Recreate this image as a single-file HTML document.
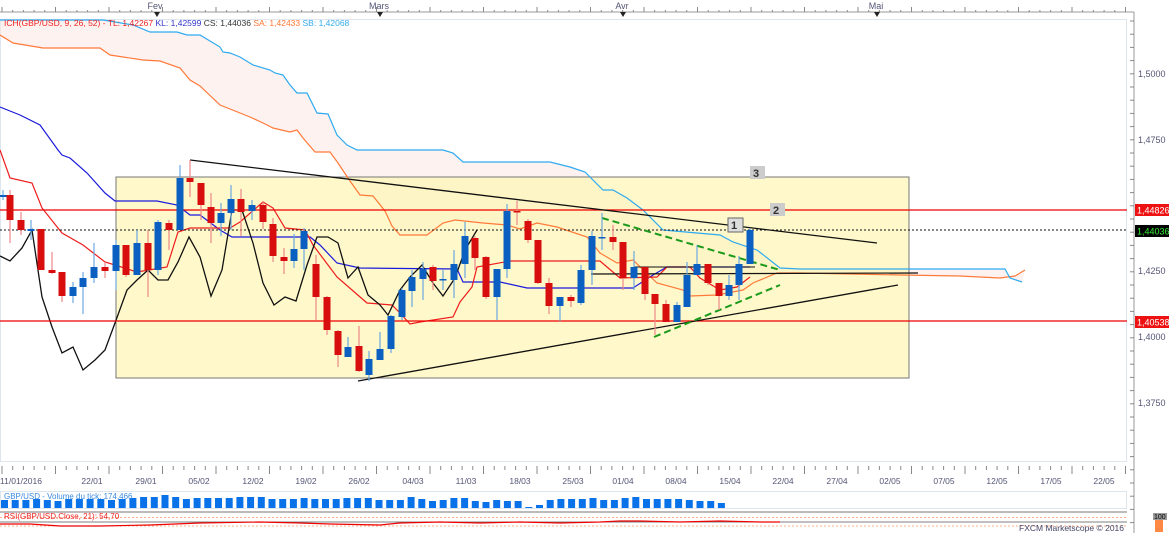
<!DOCTYPE html>
<html><head><meta charset="utf-8"><style>
html,body{margin:0;padding:0;background:#fff;}
svg{display:block;font-family:"Liberation Sans",sans-serif;}
</style></head><body>
<svg id="s" width="1170" height="533" viewBox="0 0 1170 533" xmlns="http://www.w3.org/2000/svg">
<rect x="0" y="0" width="1170" height="533" fill="#fff"/>
<line x1="0" y1="12" x2="1134" y2="12" stroke="#999"/>
<g id="toptick" stroke="#888"></g>
<text x="155" y="9" font-size="9" fill="#557" text-anchor="middle">Fev</text>
<text x="379" y="9" font-size="9" fill="#557" text-anchor="middle">Mars</text>
<text x="622" y="9" font-size="9" fill="#557" text-anchor="middle">Avr</text>
<text x="876" y="9" font-size="9" fill="#557" text-anchor="middle">Mai</text>
<g fill="#222"><path d="M154 12h6l-3 5z"/><path d="M377 12h6l-3 5z"/><path d="M620 12h6l-3 5z"/><path d="M874 12h6l-3 5z"/></g>
<rect x="0.5" y="19.5" width="1126" height="442" fill="none" stroke="#dde6ee"/>
<path id="cloud" fill="#fbe6e0" fill-opacity="0.5"/>
<rect x="116" y="177" width="793" height="201" fill="#fdf6b8" fill-opacity="0.75" stroke="#777" stroke-width="1"/>
<polyline id="sa" fill="none" stroke="#ff7a3a" stroke-width="1.2"/>
<polyline id="sb" fill="none" stroke="#2eaaf0" stroke-width="1.2"/>
<polyline id="kj" fill="none" stroke="#1a1adc" stroke-width="1.2"/>
<polyline id="tk" fill="none" stroke="#ee1c1c" stroke-width="1.2"/>
<polyline id="ck" fill="none" stroke="#111" stroke-width="1.3"/>
<line x1="0" y1="210" x2="1127" y2="210" stroke="#e00" stroke-width="1.2"/>
<line x1="0" y1="321" x2="1127" y2="321" stroke="#e00" stroke-width="1.2"/>
<line x1="0" y1="230" x2="1127" y2="230" stroke="#111" stroke-dasharray="2,2"/>
<line x1="190" y1="160" x2="877" y2="243" stroke="#111" stroke-width="1.3"/>
<line x1="358" y1="381" x2="898" y2="285" stroke="#111" stroke-width="1.3"/>
<line x1="591" y1="274" x2="918" y2="273" stroke="#111" stroke-width="1.2"/>
<line x1="634" y1="267" x2="755" y2="267" stroke="#111" stroke-width="1"/>
<line x1="602" y1="218" x2="780" y2="270" stroke="#1a9a1a" stroke-width="2" stroke-dasharray="7,4"/>
<line x1="654" y1="337" x2="780" y2="285" stroke="#1a9a1a" stroke-width="2" stroke-dasharray="7,4"/>
<g id="candles"></g>
<g font-size="11" font-weight="bold" fill="#333">
<rect x="750" y="166" width="15" height="13" fill="#ccc"/><text x="753" y="177">3</text>
<rect x="770" y="203" width="15" height="13" fill="#ccc"/><text x="773" y="214">2</text>
<rect x="728" y="218" width="15" height="14" fill="#ddd" stroke="#666"/><text x="731" y="229">1</text>
</g>
<text x="4" y="26" font-size="8.5"><tspan fill="#e22">ICH(GBP/USD, 9, 26, 52) -  TL: 1,42267</tspan><tspan fill="#33c">  KL: 1,42599</tspan><tspan fill="#333">  CS: 1,44036</tspan><tspan fill="#f73">  SA: 1,42433</tspan><tspan fill="#3ae">  SB: 1,42068</tspan></text>
<line x1="1134" y1="12" x2="1134" y2="533" stroke="#999"/>
<g id="rticks" stroke="#888"></g>
<g font-size="9" fill="#557">
<text x="1138" y="77">1,5000</text><text x="1138" y="143">1,4750</text>
<text x="1138" y="274">1,4250</text><text x="1138" y="340">1,4000</text>
<text x="1138" y="406">1,3750</text>
</g>
<rect x="1135" y="204" width="34" height="12" fill="#e11"/><text x="1137" y="213.5" font-size="9" fill="#fff">1,44826</text>
<rect x="1135" y="225" width="34" height="12" fill="#000"/><text x="1137" y="234.5" font-size="9" fill="#3e3">1,44036</text>
<rect x="1135" y="316" width="34" height="12" fill="#e11"/><text x="1137" y="325.5" font-size="9" fill="#fff">1,40538</text>
<rect x="0.5" y="466.5" width="1126" height="0" stroke="#aab"/>
<g id="btick" stroke="#888"></g>
<g font-size="8.5" fill="#557" text-anchor="middle">
<text x="21" y="484">11/01/2016</text><text x="92" y="484">22/01</text><text x="146" y="484">29/01</text><text x="199" y="484">05/02</text><text x="253" y="484">12/02</text><text x="306" y="484">19/02</text><text x="359" y="484">26/02</text><text x="413" y="484">04/03</text><text x="466" y="484">11/03</text><text x="520" y="484">18/03</text><text x="573" y="484">25/03</text><text x="623" y="484">01/04</text><text x="676" y="484">08/04</text><text x="730" y="484">15/04</text><text x="783" y="484">22/04</text><text x="837" y="484">27/04</text><text x="890" y="484">02/05</text><text x="944" y="484">07/05</text><text x="997" y="484">12/05</text><text x="1051" y="484">17/05</text><text x="1104" y="484">22/05</text>
</g>
<rect x="0.5" y="491.5" width="1126" height="17" fill="none" stroke="#dde6ee"/>
<g id="vol" fill="#0a72e8"></g>
<text x="4" y="499" font-size="8" fill="#3a8ae0">GBP/USD - Volume du tick: 174,466</text>
<rect x="0" y="511" width="1127" height="2" fill="#bbb"/>
<line x1="0" y1="517.5" x2="1127" y2="517.5" stroke="#f96" stroke-dasharray="2,2" stroke-width="0.8"/>
<line x1="0" y1="526" x2="1127" y2="526" stroke="#f96" stroke-dasharray="2,2" stroke-width="0.8"/>
<line x1="0" y1="522" x2="1127" y2="522" stroke="#555" stroke-width="0.8"/>
<polyline fill="none" stroke="#e00" stroke-width="1.2" points="0,524 30,524 60,526 100,526 150,525 200,523 260,522 300,523 330,524 380,525 400,523 440,522 480,523 520,522 560,523 600,522 620,521 640,521 680,522 720,521 760,522 780,522"/>
<text x="4" y="519" font-size="8" fill="#e22">RSI(GBP/USD.Close, 21): 54,70</text>
<text x="1124" y="531" font-size="8.5" fill="#446" text-anchor="end">FXCM Marketscope © 2016</text>
<rect x="1153" y="513" width="14" height="7" fill="#999"/><text x="1154" y="519" font-size="7" fill="#000">100</text>
<rect x="1155" y="520" width="8" height="12" fill="#f84"/>
</svg>
<script>
var NS="http://www.w3.org/2000/svg";
function el(t,a,p){var e=document.createElementNS(NS,t);for(var k in a)e.setAttribute(k,a[k]);document.getElementById(p).appendChild(e);return e;}
var C=[[3,197,195,190,200],[10,195,220,190,243],[21,220,230,212,235],[31,231,229,220,240],[41,229,270,229,270],[52,270,273,252,274],[62,272,296,272,302],[73,296,287,282,303],[83,287,278,272,314],[94,278,267,243,283],[105,267,271,262,278],[116,271,245,240,290],[126,245,275,245,277],[137,275,243,230,275],[148,243,270,230,297],[158,270,222,220,275],[169,223,230,220,250],[180,230,178,165,230],[190,178,182,160,197],[201,183,205,183,220],[211,207,223,193,243],[221,223,213,203,236],[231,213,199,185,230],[241,199,212,189,236],[252,211,205,200,220],[263,205,222,202,229],[273,224,256,218,262],[284,257,261,248,274],[294,261,249,234,268],[304,249,231,228,270],[316,264,297,255,320],[327,297,330,296,335],[338,331,355,330,367],[348,357,347,337,357],[359,346,371,326,372],[369,375,359,351,381],[380,360,349,332,360],[391,349,316,315,353],[402,317,290,288,320],[412,291,277,270,307],[423,279,269,262,300],[433,267,281,265,290],[443,280,279,270,290],[454,280,264,250,298],[465,264,236,222,278],[475,238,258,236,270],[486,257,297,256,299],[497,297,269,269,320],[507,269,211,204,278],[517,211,212,201,225],[528,221,240,219,243],[538,240,283,240,284],[549,283,306,278,314],[560,306,297,297,321],[571,297,301,295,307],[581,303,270,265,305],[592,270,236,231,285],[602,238,237,213,250],[613,237,242,225,250],[623,242,278,242,290],[634,278,267,251,290],[645,267,294,267,300],[655,294,304,294,335],[666,304,322,300,322],[677,322,305,302,322],[687,307,275,262,307],[697,275,264,245,275],[708,264,283,264,285],[719,283,296,283,310],[729,296,285,275,300],[739,285,264,256,300],[750,264,230,228,264]];
C.forEach(function(c){var up=c[2]<c[1];var col=up?"#0a5fc0":"#d80d0d";var wc=up?"#6aa8e0":"#e88";
el("line",{x1:c[0],y1:c[3],x2:c[0],y2:c[4],stroke:wc,"stroke-width":1.2},"candles");
var t=Math.min(c[1],c[2]),h=Math.max(Math.abs(c[1]-c[2]),1.5);
el("rect",{x:c[0]-3.5,y:t,width:7,height:h,fill:col},"candles");});
function P(id,pts){document.getElementById(id).setAttribute("points",pts.map(function(p){return p.join(",")}).join(" "));}
var SA=[[0,35],[13,43],[43,48],[100,48],[110,55],[143,60],[160,61],[180,68],[190,80],[200,86],[220,105],[240,113],[250,117],[263,123],[273,128],[290,132],[297,130],[303,138],[315,152],[330,152],[338,163],[350,181],[360,195],[373,196],[385,211],[392,226],[400,235],[427,235],[443,223],[455,220],[483,223],[507,225],[520,229],[537,223],[557,227],[587,237],[600,253],[617,263],[633,260],[657,283],[683,290],[690,296],[717,295],[743,290],[753,283],[777,273],[800,273],[900,275],[960,276],[1000,278],[1015,276],[1025,270]];
var SB=[[0,20],[103,20],[133,25],[150,32],[177,32],[187,35],[200,35],[220,47],[223,52],[230,53],[240,57],[253,65],[270,70],[275,73],[283,75],[290,85],[297,93],[307,93],[317,113],[328,114],[337,135],[347,145],[357,150],[443,150],[453,153],[463,162],[550,162],[570,167],[585,172],[603,190],[613,190],[627,198],[643,210],[663,230],[720,235],[733,242],[757,250],[780,268],[800,269],[1005,269],[1010,278],[1022,282]];
P("sa",SA);P("sb",SB);
var cd="M"+SA.map(function(p){return p.join(",")}).join(" L")+" L"+SB.slice().reverse().map(function(p){return p.join(",")}).join(" L")+"Z";
document.getElementById("cloud").setAttribute("d",cd);
P("kj",[[0,107],[20,115],[40,125],[58,150],[62,155],[70,158],[87,173],[105,193],[115,201],[157,201],[177,205],[190,215],[200,215],[220,230],[232,237],[310,237],[320,245],[337,263],[360,268],[457,269],[463,282],[500,282],[527,288],[633,288],[653,275],[667,267],[750,267]]);
P("tk",[[0,150],[10,178],[32,183],[42,208],[62,233],[83,245],[105,262],[115,265],[137,272],[167,267],[178,232],[190,228],[230,228],[240,222],[263,202],[273,208],[285,228],[305,230],[313,245],[337,277],[367,303],[392,305],[400,313],[410,324],[420,322],[453,317],[460,302],[472,287],[477,267],[510,261],[600,261],[607,267],[620,278],[657,277],[667,267],[690,267],[700,278],[720,290],[737,287],[750,277]]);
P("ck",[[0,256],[10,261],[22,248],[32,230],[42,297],[52,327],[62,353],[73,347],[83,370],[95,360],[105,350],[115,323],[127,290],[137,280],[148,270],[158,280],[168,280],[178,262],[189,237],[200,257],[211,296],[222,270],[232,210],[242,210],[253,243],[263,283],[274,305],[285,297],[296,301],[307,265],[317,237],[328,237],[338,243],[348,278],[358,267],[368,295],[380,305],[388,315],[400,290],[410,277],[422,265],[433,283],[443,296],[455,278],[465,250],[477,230]]);
var V=[8,8,8,9,8,7,9,9,9,9,8,9,10,11,11,13,11,9,10,10,10,10,11,11,11,9,9,9,10,9,9,9,10,10,10,8,8,8,11,9,7,8,10,10,7,6,8,7,7,1,3,8,9,9,9,10,8,8,10,11,9,9,9,9,8,7,7,5];
V.forEach(function(h,i){el("rect",{x:1+i*10.7,y:508-h,width:7,height:h},"vol");});
for(var x=2;x<1127;x+=10.7){el("line",{x1:x,y1:466,x2:x,y2:(Math.round((x-2)/10.7)%5==0?474:470)},"btick");el("line",{x1:x,y1:12,x2:x,y2:(Math.round((x-2)/10.7)%5==0?7:10)},"toptick");}
for(var y=21;y<533;y+=13.2){el("line",{x1:1130,y1:y,x2:1134,y2:y},"rticks");}
</script>
</body></html>
